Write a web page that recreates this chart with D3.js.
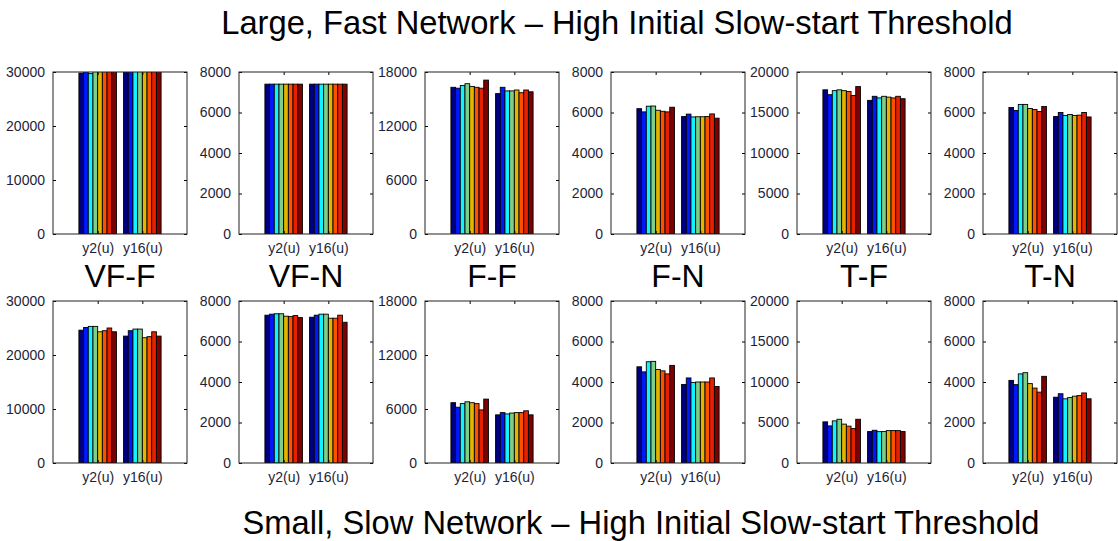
<!DOCTYPE html>
<html>
<head>
<meta charset="utf-8">
<script src="https://cdn.jsdelivr.net/npm/d3@7"></script>
<style>
  body { margin: 0; background: #fff; }
  svg { display: block; font-family: Arial, "Liberation Sans", sans-serif; }
</style>
</head>
<body>
<div id="chart"></div>
<script>
/* ============================================================
   Throughput per flow, two scenarios x six flow-type panels.
   Top row: large/fast network, bottom row: small/slow network.
   ============================================================ */
(function () {

  /* ── Data ─────────────────────────────────────────────────────────────── */
  const groups = ['y2(u)', 'y16(u)'];
  const panelNames = ['VF-F', 'VF-N', 'F-F', 'F-N', 'T-F', 'T-N'];
  const yMax = [30000, 8000, 18000, 8000, 20000, 8000];
  const yTicks = [
    [0, 10000, 20000, 30000],
    [0, 2000, 4000, 6000, 8000],
    [0, 6000, 12000, 18000],
    [0, 2000, 4000, 6000, 8000],
    [0, 5000, 10000, 15000, 20000],
    [0, 2000, 4000, 6000, 8000]
  ];

  // 8 series per group, one row per panel: [y2(u) values, y16(u) values]
  const largeFast = [
    [[29800, 30500, 29700, 30500, 30500, 30500, 30500, 30500],
     [30500, 30500, 30500, 30500, 30500, 30500, 30500, 30500]],
    [[7400, 7400, 7400, 7400, 7400, 7400, 7400, 7400],
     [7400, 7400, 7400, 7400, 7400, 7400, 7400, 7400]],
    [[16300, 16200, 16500, 16700, 16400, 16300, 16200, 17100],
     [15600, 16300, 15900, 15900, 16000, 15700, 16000, 15800]],
    [[6190, 6030, 6310, 6320, 6110, 6060, 6030, 6260],
     [5800, 5920, 5780, 5790, 5790, 5800, 5930, 5720]],
    [[17800, 17200, 17700, 17800, 17700, 17600, 17100, 18200],
     [16500, 17000, 16800, 17000, 16900, 16800, 17000, 16700]],
    [[6250, 6100, 6400, 6400, 6200, 6150, 6050, 6300],
     [5800, 6000, 5850, 5900, 5850, 5870, 6000, 5780]]
  ];
  const smallSlow = [
    [[24600, 25100, 25300, 25300, 24300, 24500, 25000, 24300],
     [23500, 24500, 24800, 24800, 23200, 23400, 24300, 23500]],
    [[7300, 7350, 7370, 7370, 7250, 7230, 7280, 7180],
     [7200, 7300, 7350, 7350, 7150, 7150, 7300, 6950]],
    [[6700, 6200, 6600, 6800, 6700, 6600, 5900, 7100],
     [5350, 5600, 5450, 5550, 5600, 5600, 5800, 5350]],
    [[4750, 4500, 5000, 5020, 4620, 4550, 4400, 4820],
     [3880, 4200, 3980, 4000, 4000, 4000, 4200, 3780]],
    [[5080, 4580, 5200, 5400, 4800, 4550, 4250, 5400],
     [3880, 4040, 3870, 3880, 4000, 4000, 4000, 3880]],
    [[4080, 3870, 4400, 4460, 3920, 3700, 3500, 4280],
     [3250, 3420, 3170, 3230, 3300, 3330, 3460, 3170]]
  ];

  const titleTop = 'Large, Fast Network \u2013 High Initial Slow-start Threshold';
  const titleBottom = 'Small, Slow Network \u2013 High Initial Slow-start Threshold';

  /* ── Layout constants ─────────────────────────────────────────────────── */
  const TW = 1118, TH = 541;
  const LEFT0 = 53, STEP = 186, PW = 134, PH = 162;
  const ROW_TOP = [72, 301];
  const TICK = 3;
  const GROUP_W = 0.84;           // in x units (xlim 0..3)

  // jet-like colormap, 8 series
  const COLOR = ['#00007f', '#0018ff', '#12f2ff', '#80cf88',
                 '#e4b400', '#ff5000', '#e82000', '#7f0000'];

  /* ── SVG setup ────────────────────────────────────────────────────────── */
  const svg = d3.select('#chart')
    .append('svg')
    .attr('width', TW)
    .attr('height', TH);

  const defs = svg.append('defs');

  /* ── One panel ────────────────────────────────────────────────────────── */
  function drawPanel(row, col, values) {
    const id = `clip-${row}-${col}`;
    const g = svg.append('g')
      .attr('transform', `translate(${LEFT0 + col * STEP},${ROW_TOP[row]})`);

    defs.append('clipPath').attr('id', id)
      .append('rect').attr('width', PW).attr('height', PH);

    const x = d3.scaleLinear().domain([0, 3]).range([0, PW]);
    const y = d3.scaleLinear().domain([0, yMax[col]]).range([PH, 0]);
    const inner = d3.scaleBand().domain(d3.range(8))
      .range([0, x(GROUP_W) - x(0)]);

    // Bars
    const plot = g.append('g').attr('clip-path', `url(#${id})`);
    plot.selectAll('g.grp')
      .data(values)
      .join('g')
      .attr('class', 'grp')
      .attr('transform', (d, i) => `translate(${x(i + 1 - GROUP_W / 2)},0)`)
      .selectAll('rect')
      .data(d => d)
      .join('rect')
      .attr('x', (d, j) => inner(j))
      .attr('y', d => y(d))
      .attr('width', inner.bandwidth())
      .attr('height', d => PH - y(d))
      .attr('fill', (d, j) => COLOR[j])
      .attr('stroke', '#000')
      .attr('stroke-width', 0.9);

    // Left axis (ticks inside)
    const yAxis = g.append('g')
      .call(d3.axisLeft(y).tickValues(yTicks[col]).tickSize(-TICK).tickPadding(8)
        .tickFormat(d3.format('d')));
    const yAxisR = g.append('g').attr('transform', `translate(${PW},0)`)
      .call(d3.axisRight(y).tickValues(yTicks[col]).tickSize(-TICK).tickFormat(''));

    // Bottom / top axes
    const xAxis = g.append('g').attr('transform', `translate(0,${PH})`)
      .call(d3.axisBottom(x).tickValues([1, 2]).tickSize(-TICK).tickPadding(9)
        .tickFormat(d => groups[d - 1]));
    const xAxisT = g.append('g')
      .call(d3.axisTop(x).tickValues([1, 2]).tickSize(-TICK).tickFormat(''));

    [yAxis, yAxisR, xAxis, xAxisT].forEach(a => {
      a.select('.domain').remove();
      a.selectAll('line').attr('stroke', '#000');
      a.selectAll('text')
        .attr('fill', '#1e1e38')
        .style('font-size', '14px')
        .style('font-family', 'Arial, "Liberation Sans", sans-serif');
    });

    // Box
    g.append('rect')
      .attr('width', PW).attr('height', PH)
      .attr('fill', 'none')
      .attr('stroke', '#222')
      .attr('stroke-width', 1);
  }

  largeFast.forEach((v, i) => drawPanel(0, i, v));
  smallSlow.forEach((v, i) => drawPanel(1, i, v));

  /* ── Titles ───────────────────────────────────────────────────────────── */
  svg.append('text')
    .attr('x', 617).attr('y', 34)
    .attr('text-anchor', 'middle')
    .style('font-size', '32.7px')
    .text(titleTop);

  svg.append('text')
    .attr('x', 641).attr('y', 534)
    .attr('text-anchor', 'middle')
    .style('font-size', '32.7px')
    .text(titleBottom);

  svg.selectAll('text.pname')
    .data(panelNames)
    .join('text')
    .attr('class', 'pname')
    .attr('x', (d, i) => LEFT0 + i * STEP + PW / 2)
    .attr('y', 287)
    .attr('text-anchor', 'middle')
    .style('font-size', '32px')
    .text(d => d);

})();
</script>
</body>
</html>
